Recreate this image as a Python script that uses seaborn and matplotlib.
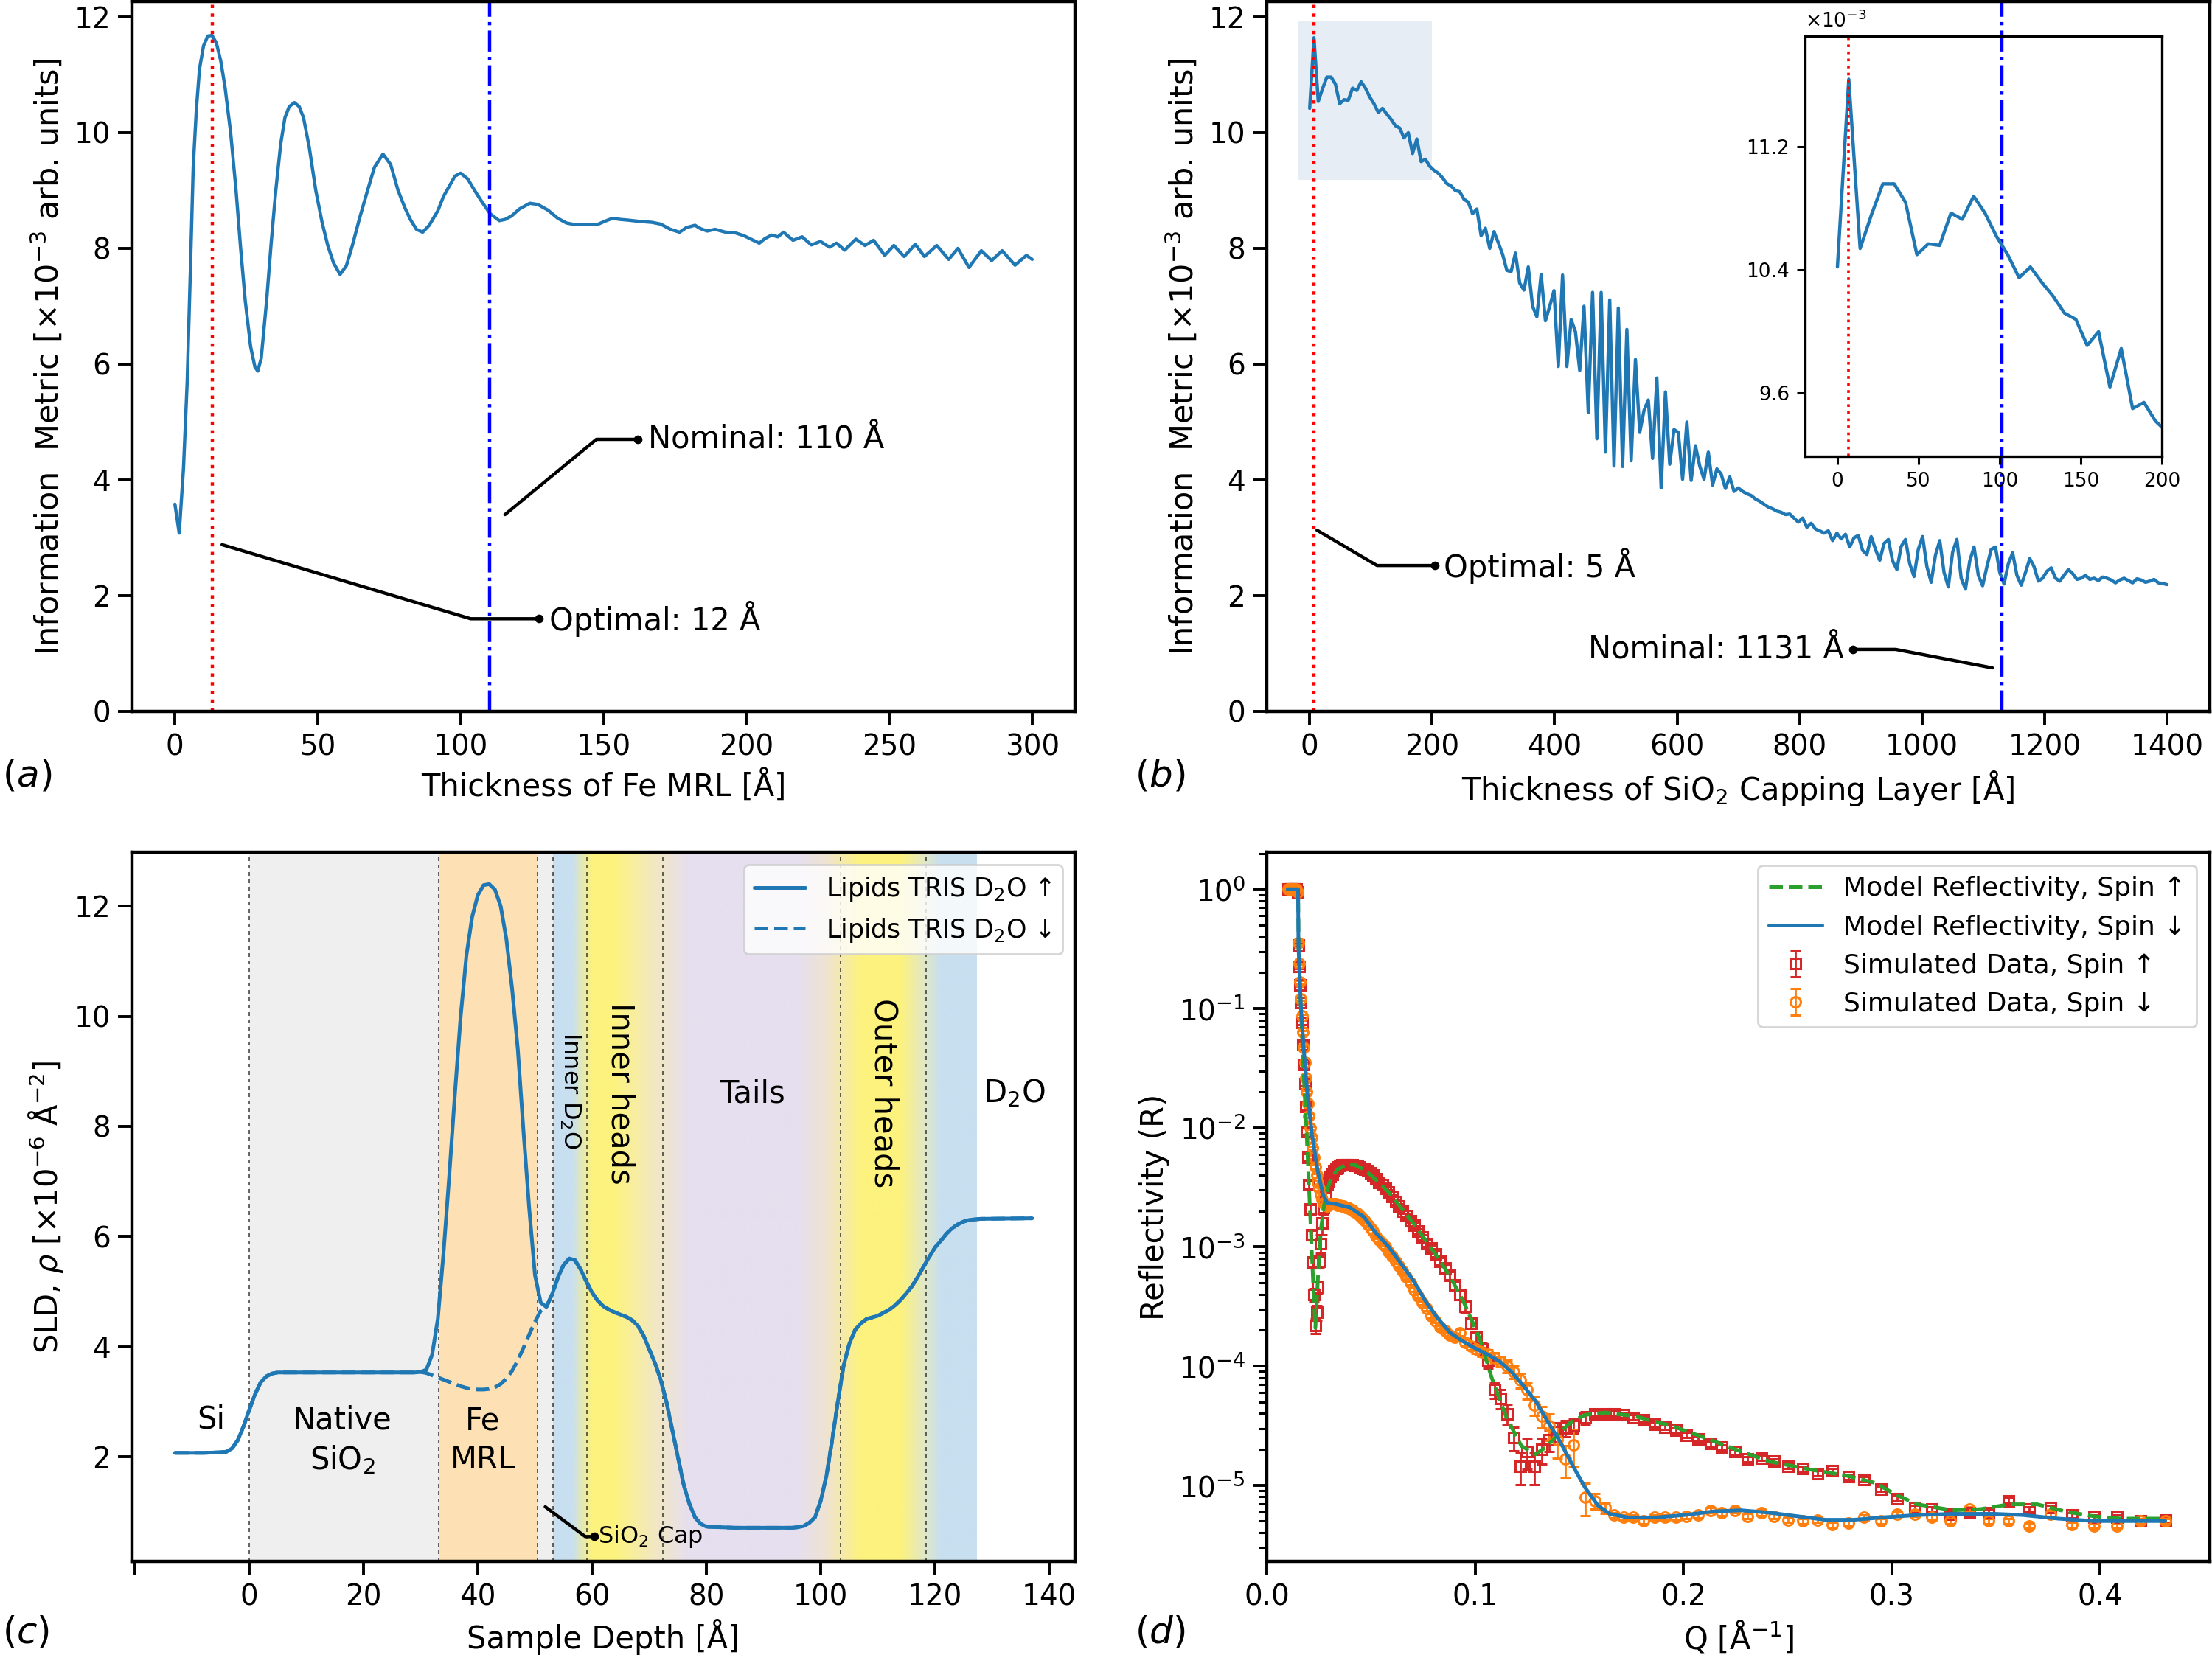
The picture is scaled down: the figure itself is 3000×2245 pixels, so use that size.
import numpy as np
import matplotlib
matplotlib.use('Agg')
import matplotlib.pyplot as plt
import seaborn as sns
from matplotlib.patches import Rectangle
from matplotlib.colors import to_rgb

# ---------------- data ----------------
# (a) information metric vs Fe MRL thickness
a_x = [0, 1.5, 3, 4.3, 5.4, 6.4, 7.5, 8.6, 10, 11.5,
       13, 14.5, 16, 17.5, 19.5, 21.4, 23, 24.6, 26.5, 28,
       29, 30.2, 32.1, 33.7, 35.3, 37, 38.5, 40, 41.8, 43.5,
       45, 47, 49.3, 51.5, 53.5, 55.5, 57.8, 60, 62.1, 64.5,
       67.4, 69.8, 72.8, 75.5, 78.1, 80.5, 82.4, 84.5, 86.7, 89,
       92, 94, 96.3, 98, 100, 102.5, 104.9, 107.5, 110.3, 113.5,
       115.5, 117.8, 120.5, 124.2, 127, 130.6, 134, 137, 140, 143.5,
       147.7, 150.5, 153.1, 156, 158.4, 162, 167, 170, 173.4, 176.6,
       179, 182, 184, 186.3, 189, 192.7, 196, 199.1, 202, 204.5,
       206.5, 208.8, 211, 213, 216.3, 219.5, 222.7, 225.9, 229.1, 231.5,
       234.4, 238.3, 241.5, 244.5, 248.4, 251.6, 255.2, 259.1, 262.3, 266.6,
       270.8, 274, 277.9, 282.2, 285.8, 289.5, 294, 298, 300]
a_y = [3.58, 3.08, 4.2, 5.7, 7.6, 9.4, 10.4, 11.1, 11.5, 11.67,
       11.68, 11.55, 11.25, 10.8, 10.0, 9.0, 8.0, 7.1, 6.3, 5.95,
       5.88, 6.1, 7.1, 8.1, 9.0, 9.8, 10.26, 10.45, 10.52, 10.45,
       10.26, 9.75, 9.0, 8.45, 8.05, 7.75, 7.55, 7.7, 8.05, 8.5,
       9.0, 9.4, 9.63, 9.45, 9.0, 8.7, 8.5, 8.33, 8.28, 8.4,
       8.65, 8.9, 9.1, 9.25, 9.3, 9.2, 9.0, 8.8, 8.6, 8.48,
       8.5, 8.56, 8.68, 8.78, 8.76, 8.66, 8.52, 8.44, 8.41, 8.41,
       8.41, 8.47, 8.52, 8.5, 8.49, 8.47, 8.45, 8.42, 8.33, 8.28,
       8.36, 8.4, 8.34, 8.3, 8.33, 8.28, 8.27, 8.22, 8.15, 8.09,
       8.17, 8.23, 8.2, 8.28, 8.14, 8.2, 8.06, 8.12, 8.02, 8.09,
       7.97, 8.16, 8.05, 8.14, 7.88, 8.05, 7.86, 8.07, 7.86, 8.05,
       7.81, 8.0, 7.67, 7.96, 7.79, 7.96, 7.71, 7.88, 7.81]

# (b) information metric vs SiO2 capping thickness (7 A scan)
b_x = [0, 7, 14, 21, 28, 35, 42, 49, 56, 63,
       70, 77, 84, 91, 98, 105, 112, 119, 126, 133,
       140, 147, 154, 161, 168, 175, 182, 189, 196, 203,
       210, 217, 224, 231, 238, 245, 252, 259, 266, 273,
       280, 287, 294, 301, 308, 315, 322, 329, 336, 343,
       350, 357, 364, 371, 378, 385, 392, 399, 406, 413,
       420, 427, 434, 441, 448, 455, 462, 469, 476, 483,
       490, 497, 504, 511, 518, 525, 532, 539, 546, 553,
       560, 567, 574, 581, 588, 595, 602, 609, 616, 623,
       630, 637, 644, 651, 658, 665, 672, 679, 686, 693,
       700, 707, 714, 721, 728, 735, 742, 749, 756, 763,
       770, 777, 784, 791, 798, 805, 812, 819, 826, 833,
       840, 847, 854, 861, 868, 875, 882, 889, 896, 903,
       910, 917, 924, 931, 938, 945, 952, 959, 966, 973,
       980, 987, 994, 1001, 1008, 1015, 1022, 1029, 1036, 1043,
       1050, 1057, 1064, 1071, 1078, 1085, 1092, 1099, 1106, 1113,
       1120, 1127, 1134, 1141, 1148, 1155, 1162, 1169, 1176, 1183,
       1190, 1197, 1204, 1211, 1218, 1225, 1232, 1239, 1246, 1253,
       1260, 1267, 1274, 1281, 1288, 1295, 1302, 1309, 1316, 1323,
       1330, 1337, 1344, 1351, 1358, 1365, 1372, 1379, 1386, 1393,
       1400]
b_y = [10.42, 11.64, 10.54, 10.76, 10.96, 10.96, 10.84, 10.50, 10.57, 10.56,
       10.77, 10.73, 10.88, 10.77, 10.62, 10.50, 10.35, 10.42, 10.32, 10.23,
       10.12, 10.08, 9.91, 10.00, 9.64, 9.89, 9.50, 9.54, 9.42, 9.35,
       9.30, 9.22, 9.12, 9.08, 9.00, 8.98, 8.85, 8.80, 8.60, 8.68,
       8.22, 8.35, 8.00, 8.29, 8.10, 7.90, 7.62, 7.60, 7.92, 7.40,
       7.28, 7.68, 7.00, 6.82, 7.55, 6.75, 7.00, 7.27, 5.96, 7.54,
       5.96, 6.77, 6.56, 5.89, 7.00, 5.16, 7.24, 4.71, 7.24, 4.48,
       7.11, 4.24, 6.97, 4.23, 6.60, 4.33, 6.08, 4.82, 5.20, 5.38,
       4.37, 5.76, 3.86, 5.52, 4.27, 4.87, 4.82, 4.01, 5.00, 3.99,
       4.59, 4.24, 4.01, 4.48, 3.91, 4.19, 4.10, 3.85, 4.05, 3.80,
       3.86, 3.80, 3.76, 3.73, 3.67, 3.63, 3.58, 3.53, 3.50, 3.46,
       3.44, 3.40, 3.41, 3.34, 3.27, 3.34, 3.18, 3.25, 3.15, 3.12,
       3.08, 3.12, 2.95, 3.08, 2.98, 3.06, 2.84, 3.00, 3.04, 2.78,
       2.71, 3.02, 2.80, 2.61, 2.90, 2.97, 2.60, 2.45, 2.85, 2.97,
       2.55, 2.33, 2.80, 3.02, 2.50, 2.23, 2.70, 2.95, 2.40, 2.15,
       2.75, 2.97, 2.30, 2.11, 2.60, 2.84, 2.35, 2.17, 2.50, 2.80,
       2.84, 2.40, 2.20, 2.55, 2.74, 2.35, 2.18, 2.40, 2.64, 2.50,
       2.25, 2.30, 2.42, 2.48, 2.30, 2.25, 2.35, 2.45, 2.38, 2.28,
       2.30, 2.35, 2.28, 2.30, 2.26, 2.32, 2.30, 2.27, 2.22, 2.27,
       2.30, 2.26, 2.22, 2.29, 2.27, 2.23, 2.25, 2.28, 2.22, 2.21,
       2.19]

# (c) SLD profile
c_x = [-13, -8, -5, -4, -3, -2, -1, 0, 1, 2,
       3, 4, 5, 10, 20, 29, 30, 31, 32, 33,
       34, 35, 36, 37, 38, 39, 40, 41, 42, 43,
       44, 45, 46, 47, 48, 49, 50, 51, 52, 53,
       54, 55, 56, 57, 58, 59, 60, 61, 62, 63,
       64, 65, 66, 67, 68, 69, 70, 71, 72, 73,
       74, 75, 76, 77, 78, 79, 80, 85, 90, 95,
       96, 97, 98, 99, 100, 101, 102, 103, 104, 105,
       106, 107, 108, 110, 112, 113, 114, 115, 116, 117,
       118, 119, 120, 121, 122, 123, 124, 125, 126, 128,
       137]
sld_up = [2.07, 2.07, 2.08, 2.09, 2.15, 2.3, 2.55, 2.85, 3.13, 3.35,
          3.46, 3.51, 3.53, 3.53, 3.53, 3.53, 3.54, 3.58, 3.85, 4.5,
          5.7, 7.1, 8.6, 10.0, 11.1, 11.8, 12.2, 12.38, 12.4, 12.3,
          12.0, 11.4, 10.5, 9.4, 7.9, 6.5, 5.3, 4.8, 4.72, 4.95,
          5.25, 5.48, 5.6, 5.57, 5.4, 5.18, 4.98, 4.83, 4.73, 4.67,
          4.62, 4.58, 4.54, 4.48, 4.38, 4.2, 3.95, 3.7, 3.4, 3.0,
          2.5, 2.0, 1.5, 1.15, 0.9, 0.78, 0.73, 0.71, 0.71, 0.71,
          0.72, 0.74, 0.8, 0.9, 1.2, 1.65, 2.3, 3.0, 3.65, 4.05,
          4.3, 4.42, 4.5, 4.56, 4.67, 4.75, 4.85, 4.97, 5.1, 5.27,
          5.45, 5.63, 5.8, 5.92, 6.05, 6.15, 6.22, 6.27, 6.3, 6.32,
          6.33]
# spin-down SLD inside the Fe layer (x = 30 ... 52)
sld_down_fe = [3.54, 3.52, 3.48, 3.44, 3.4, 3.36, 3.32, 3.28, 3.25, 3.23,
               3.22, 3.22, 3.23, 3.26, 3.32, 3.42, 3.56, 3.75, 3.98, 4.22,
               4.45, 4.65, 4.72]

# (d) reflectivity
q_data = [0.01030, 0.01058, 0.01087, 0.01117, 0.01148, 0.01180, 0.01212, 0.01246, 0.01280, 0.01315,
          0.01351, 0.01389, 0.01427, 0.01466, 0.01506, 0.01548, 0.01591, 0.01634, 0.01679, 0.01726,
          0.01773, 0.01822, 0.01872, 0.01924, 0.01977, 0.02031, 0.02087, 0.02144, 0.02203, 0.02264,
          0.02326, 0.02390, 0.02456, 0.02523, 0.02593, 0.02664, 0.02737, 0.02813, 0.02890, 0.02969,
          0.03051, 0.03135, 0.03221, 0.03310, 0.03401, 0.03494, 0.03590, 0.03689, 0.03790, 0.03895,
          0.04002, 0.04112, 0.04225, 0.04341, 0.04460, 0.04583, 0.04709, 0.04838, 0.04971, 0.05108,
          0.05249, 0.05393, 0.05541, 0.05694, 0.05850, 0.06011, 0.06176, 0.06346, 0.06521, 0.06700,
          0.06884, 0.07074, 0.07268, 0.07468, 0.07673, 0.07884, 0.08101, 0.08324, 0.08553, 0.08788,
          0.09030, 0.09278, 0.09533, 0.09795, 0.10065, 0.10342, 0.10626, 0.10918, 0.11219, 0.11527,
          0.11844, 0.12170, 0.12505, 0.12849, 0.13202, 0.13565, 0.13938, 0.14321, 0.14715, 0.1528,
          0.1574, 0.1625, 0.1667, 0.1714, 0.1760, 0.1809, 0.1861, 0.1911, 0.1963, 0.2015,
          0.2070, 0.2129, 0.2185, 0.2246, 0.2309, 0.2374, 0.2435, 0.2503, 0.2573, 0.2644,
          0.2716, 0.2792, 0.2868, 0.2947, 0.3027, 0.3110, 0.3193, 0.3282, 0.3373, 0.3466,
          0.3560, 0.3660, 0.3762, 0.3866, 0.3971, 0.4082, 0.4193, 0.4313]
logr_up = [0, 0, 0, 0, 0, 0, 0, 0, 0, 0,
           0, 0, 0, -0.02, -0.47, -0.65, -0.80, -0.95, -1.12, -1.30,
           -1.47, -1.63, -1.82, -2.03, -2.25, -2.48, -2.68, -2.90, -3.13, -3.40,
           -3.66, -3.55, -3.34, -3.12, -2.97, -2.80, -2.67, -2.58, -2.48, -2.45,
           -2.41, -2.39, -2.36, -2.34, -2.33, -2.32, -2.31, -2.31, -2.31, -2.31,
           -2.31, -2.31, -2.32, -2.32, -2.33, -2.34, -2.35, -2.36, -2.38, -2.40,
           -2.43, -2.46, -2.48, -2.51, -2.54, -2.58, -2.62, -2.66, -2.70, -2.74,
           -2.78, -2.82, -2.87, -2.92, -2.97, -3.01, -3.06, -3.12, -3.18, -3.24,
           -3.32, -3.40, -3.50, -3.64, -3.76, -3.86, -3.95, -4.20, -4.27, -4.40,
           -4.60, -4.84, -4.72, -4.84, -4.70, -4.62, -4.55, -4.52, -4.50, -4.43,
           -4.40, -4.40, -4.40, -4.41, -4.43, -4.45, -4.49, -4.51, -4.54, -4.58,
           -4.61, -4.65, -4.68, -4.72, -4.78, -4.77, -4.80, -4.84, -4.86, -4.90,
           -4.88, -4.93, -4.95, -5.03, -5.11, -5.19, -5.20, -5.24, -5.23, -5.23,
           -5.13, -5.20, -5.19, -5.25, -5.27, -5.27, -5.30, -5.29]
logr_down = [0, 0, 0, 0, 0, 0, 0, 0, 0, 0,
             0, 0, 0, -0.02, -0.45, -0.62, -0.78, -0.92, -1.06, -1.20,
             -1.33, -1.45, -1.58, -1.70, -1.80, -1.90, -2.00, -2.08, -2.17, -2.25,
             -2.33, -2.40, -2.46, -2.51, -2.56, -2.60, -2.63, -2.65, -2.66, -2.65,
             -2.64, -2.64, -2.64, -2.64, -2.65, -2.65, -2.66, -2.66, -2.67, -2.67,
             -2.68, -2.69, -2.71, -2.72, -2.74, -2.76, -2.78, -2.81, -2.84, -2.87,
             -2.91, -2.94, -2.97, -3.00, -3.04, -3.08, -3.12, -3.16, -3.20, -3.25,
             -3.30, -3.36, -3.41, -3.47, -3.52, -3.58, -3.62, -3.67, -3.70, -3.74,
             -3.76, -3.72, -3.80, -3.83, -3.86, -3.88, -3.90, -3.93, -3.96, -4.00,
             -4.05, -4.12, -4.20, -4.33, -4.42, -4.50, -4.62, -4.78, -4.66, -5.10,
             -5.13, -5.19, -5.25, -5.27, -5.27, -5.30, -5.27, -5.27, -5.27, -5.26,
             -5.25, -5.21, -5.23, -5.21, -5.26, -5.23, -5.26, -5.29, -5.30, -5.29,
             -5.33, -5.32, -5.27, -5.30, -5.24, -5.24, -5.27, -5.30, -5.20, -5.30,
             -5.30, -5.34, -5.24, -5.33, -5.34, -5.34, -5.30, -5.30]
# relative error bars
err_up = ([0.02] * 14 + [0.03, 0.03, 0.03, 0.04, 0.04, 0.05,
          0.05, 0.05, 0.06, 0.06, 0.07, 0.08, 0.08, 0.09, 0.10, 0.12,
          0.14, 0.14, 0.12, 0.12, 0.18, 0.20, 0.12, 0.08, 0.06, 0.05]
          + [0.05] * 30
          + [0.05, 0.05, 0.05, 0.05, 0.06, 0.06, 0.06, 0.07, 0.07, 0.08,
             0.08, 0.09, 0.10, 0.10, 0.12, 0.12, 0.14, 0.15, 0.18, 0.20,
             0.22, 0.30, 0.28, 0.30, 0.25, 0.20, 0.18, 0.15, 0.14, 0.12]
          + [0.05] * 38)
err_down = ([0.02] * 14 + [0.03] * 16 + [0.04] * 50
            + [0.05, 0.06, 0.06, 0.07, 0.08, 0.08, 0.09, 0.10, 0.10, 0.12,
               0.12, 0.14, 0.16, 0.18, 0.20, 0.25, 0.30, 0.30, 0.35, 0.30]
            + [0.15, 0.10] + [0.05] * 36)

# model curves
mu_q = [0.0100, 0.0150, 0.0153, 0.0160, 0.0170, 0.0180, 0.0190, 0.0200, 0.0210, 0.0220,
        0.0233, 0.0240, 0.0250, 0.0260, 0.0275, 0.0290, 0.0310, 0.0340, 0.0380, 0.0420,
        0.0467, 0.0520, 0.0585, 0.0640, 0.0703, 0.0760, 0.0821, 0.0880, 0.0939, 0.0980,
        0.1022, 0.1080, 0.1150, 0.1222, 0.1290, 0.1340, 0.1400, 0.1460, 0.1528, 0.1623,
        0.1764, 0.1940, 0.2117, 0.2235, 0.2412, 0.2615, 0.2784, 0.2920, 0.3021, 0.3123,
        0.3292, 0.3428, 0.3563, 0.3699, 0.3834, 0.3969, 0.4105, 0.4313]
mu_log = [0, 0, -0.5, -0.85, -1.25, -1.65, -2.0, -2.4, -2.8, -3.2,
          -3.68, -3.45, -3.1, -2.85, -2.65, -2.52, -2.42, -2.35, -2.31, -2.31,
          -2.35, -2.43, -2.54, -2.66, -2.8, -2.94, -3.09, -3.25, -3.44, -3.6,
          -3.77, -4.1, -4.43, -4.67, -4.74, -4.68, -4.57, -4.47, -4.41, -4.39,
          -4.42, -4.5, -4.61, -4.69, -4.8, -4.87, -4.92, -4.98, -5.08, -5.16,
          -5.21, -5.2, -5.16, -5.16, -5.22, -5.26, -5.28, -5.28]
md_q = [0.0100, 0.0150, 0.0152, 0.0164, 0.0177, 0.0194, 0.0217, 0.0244, 0.0270, 0.0290,
        0.0330, 0.0400, 0.0467, 0.0522, 0.0585, 0.0640, 0.0703, 0.0760, 0.0821, 0.0880,
        0.0939, 0.1000, 0.1057, 0.1117, 0.1175, 0.1230, 0.1293, 0.1350, 0.1410, 0.1470,
        0.1528, 0.1590, 0.1646, 0.1735, 0.1870, 0.2005, 0.2141, 0.2276, 0.2412, 0.2547,
        0.2683, 0.2818, 0.2954, 0.3123, 0.3292, 0.3495, 0.3630, 0.3800, 0.3969, 0.4313]
md_log = [0, 0, -0.48, -1.0, -1.33, -1.7, -2.06, -2.36, -2.56, -2.63,
          -2.64, -2.67, -2.75, -2.88, -3.0, -3.13, -3.28, -3.45, -3.6, -3.72,
          -3.79, -3.85, -3.9, -3.96, -4.05, -4.16, -4.3, -4.47, -4.64, -4.84,
          -5.02, -5.17, -5.24, -5.27, -5.27, -5.25, -5.22, -5.21, -5.23, -5.26,
          -5.29, -5.29, -5.27, -5.25, -5.24, -5.24, -5.25, -5.28, -5.3, -5.3]

# ---------------- styling ----------------
sns.set_theme(style='ticks', rc={
    'axes.linewidth': 1.6, 'axes.edgecolor': 'black',
    'xtick.major.width': 1.4, 'ytick.major.width': 1.4,
    'xtick.major.size': 7, 'ytick.major.size': 7,
    'xtick.minor.size': 4, 'ytick.minor.size': 4,
    'xtick.minor.width': 1.1, 'ytick.minor.width': 1.1,
    'xtick.color': 'black', 'ytick.color': 'black',
    'text.color': 'black', 'axes.labelcolor': 'black',
    'font.size': 14, 'xtick.labelsize': 14, 'ytick.labelsize': 14,
    'axes.labelsize': 15, 'legend.fontsize': 13,
})
plt.rcParams['font.family'] = ['DejaVu Sans']

BLUE = '#1f77b4'
fig = plt.figure(figsize=(15, 11.225), dpi=200)
ax_a = fig.add_axes([0.0597, 0.5702, 0.4263, 0.4290])
ax_b = fig.add_axes([0.5727, 0.5702, 0.4263, 0.4290])
ax_c = fig.add_axes([0.0597, 0.0566, 0.4263, 0.4285])
ax_d = fig.add_axes([0.5727, 0.0566, 0.4263, 0.4285])


def callout(ax, target, corner, dot, text, ha='left', fs=15, gap=3.5):
    ax.plot([target[0], corner[0], dot[0]], [target[1], corner[1], dot[1]],
            color='black', lw=1.6, zorder=5)
    ax.plot([dot[0]], [dot[1]], 'o', color='black', ms=3.2, zorder=5)
    dx = gap if ha == 'left' else -gap
    ax.text(dot[0] + dx, dot[1], text, ha=ha, va='center', fontsize=fs, zorder=6)


# ---------------- (a) ----------------
sns.lineplot(x=a_x, y=a_y, ax=ax_a, color=BLUE, lw=1.6)
ax_a.axvline(13, color='red', ls=':', lw=1.6)
ax_a.axvline(110, color='blue', ls='-.', lw=1.6)
ax_a.set_xlim(-15, 315)
ax_a.set_ylim(0, 12.27)
ax_a.set_xticks(range(0, 301, 50))
ax_a.set_yticks(range(0, 13, 2))
ax_a.set_xlabel('Thickness of Fe MRL [Å]')
ax_a.set_ylabel('Information  Metric [×10$^{-3}$ arb. units]', fontsize=15.5)
callout(ax_a, (115.5, 3.4), (147.5, 4.7), (162, 4.7), 'Nominal: 110 Å')
callout(ax_a, (16.5, 2.88), (103.5, 1.6), (127.5, 1.6), 'Optimal: 12 Å')

# ---------------- (b) ----------------
ax_b.add_patch(Rectangle((-20, 9.19), 220, 2.73, facecolor='#b0c4de',
                         alpha=0.3, lw=0, zorder=0))
sns.lineplot(x=b_x, y=b_y, ax=ax_b, color=BLUE, lw=1.6)
ax_b.axvline(7, color='red', ls=':', lw=1.6)
ax_b.axvline(1131, color='blue', ls='-.', lw=1.6)
ax_b.set_xlim(-70, 1470)
ax_b.set_ylim(0, 12.27)
ax_b.set_xticks(range(0, 1401, 200))
ax_b.set_yticks(range(0, 13, 2))
ax_b.set_xlabel('Thickness of SiO$_2$ Capping Layer [Å]')
ax_b.set_ylabel('Information  Metric [×10$^{-3}$ arb. units]', fontsize=15.5)
callout(ax_b, (12, 3.13), (110, 2.52), (204, 2.52), 'Optimal: 5 Å', gap=15)
callout(ax_b, (1115, 0.75), (957, 1.07), (887, 1.07), 'Nominal: 1131 Å',
        ha='right', gap=15)

ax_in = fig.add_axes([0.816, 0.7243, 0.1613, 0.2539])
ax_in.patch.set_alpha(0)
sns.lineplot(x=b_x, y=b_y, ax=ax_in, color=BLUE, lw=1.6)
ax_in.axvline(7, color='red', ls=':', lw=1.3)
ax_in.set_xlim(-20, 200)
ax_in.set_ylim(9.19, 11.92)
ax_in.set_xticks([0, 50, 100, 150, 200])
ax_in.set_yticks([9.6, 10.4, 11.2])
ax_in.set_yticklabels(['9.6', '10.4', '11.2'])
ax_in.tick_params(labelsize=9.5, length=4, width=1.1)
for s in ax_in.spines.values():
    s.set_linewidth(1.2)
ax_in.set_xlabel('')
ax_in.set_ylabel('')
ax_in.text(0.0, 1.01, '×10$^{-3}$', transform=ax_in.transAxes, fontsize=9.5,
           ha='left', va='bottom')

# ---------------- (c) ----------------
c_ylim = (0.1, 12.98)
region_lines = [0, 33.2, 50.4, 53.2, 59.1, 72.4, 103.5, 118.4]
ax_c.axvspan(0, 33.2, color='#efefef', lw=0, zorder=0)
ax_c.axvspan(33.2, 50.4, color='#fde1b5', lw=0, zorder=0)
ax_c.axvspan(50.4, 53.2, color='#efefef', lw=0, zorder=0)
grad_pos = [53.2, 56.5, 60.0, 64.0, 71.0, 77.0, 96.0, 101.0, 107.0, 114.0, 118.0, 121.0, 127.3]
grad_col = ['#c8dff0', '#c8dff0', '#fdf27e', '#fdf37f', '#f2e8c2', '#e6dfef', '#e6dfef',
            '#efe3d2', '#fdf27e', '#fdf27e', '#e2e8c4', '#c8dff0', '#c8dff0']
gx = np.linspace(grad_pos[0], grad_pos[-1], 800)
grgb = np.array([to_rgb(c) for c in grad_col])
gimg = np.stack([np.interp(gx, grad_pos, grgb[:, k]) for k in range(3)], axis=-1)[None, :, :]
ax_c.imshow(gimg, extent=(grad_pos[0], grad_pos[-1], c_ylim[0], c_ylim[1]),
            aspect='auto', zorder=0, interpolation='bilinear')
for xv in region_lines:
    ax_c.axvline(xv, color='black', lw=0.6, ls=(0, (3, 3)), alpha=0.7, zorder=1)

i0, i1 = c_x.index(30), c_x.index(52)
sld_down = sld_up[:i0] + sld_down_fe + sld_up[i1 + 1:]
sns.lineplot(x=c_x, y=sld_down, ax=ax_c, color=BLUE, lw=1.8, linestyle='--',
             label='Lipids TRIS D$_2$O ↓', zorder=3)
sns.lineplot(x=c_x, y=sld_up, ax=ax_c, color=BLUE, lw=1.8,
             label='Lipids TRIS D$_2$O ↑', zorder=3)
ax_c.set_xlim(-20.5, 144.5)
ax_c.set_ylim(*c_ylim)
ax_c.set_xticks(range(-20, 141, 20))
ax_c.set_xticklabels([''] + [str(v) for v in range(0, 141, 20)])
ax_c.set_yticks(range(2, 13, 2))
ax_c.set_xlabel('Sample Depth [Å]')
ax_c.set_ylabel(r'SLD, $\rho$ [×10$^{-6}$ Å$^{-2}$]')

txt = dict(ha='center', va='center', fontsize=15, zorder=4)
ax_c.text(-6.7, 2.67, 'Si', **txt)
ax_c.text(16.3, 2.3, 'Native\nSiO$_2$', linespacing=1.3, **txt)
ax_c.text(40.9, 2.3, 'Fe\nMRL', linespacing=1.3, **txt)
ax_c.text(56.2, 8.65, 'Inner D$_2$O', rotation=-90, ha='center', va='center',
          fontsize=11.5, zorder=4)
ax_c.text(64.9, 8.6, 'Inner heads', rotation=-90, **txt)
ax_c.text(88.0, 8.6, 'Tails', **txt)
ax_c.text(111.0, 8.6, 'Outer heads', rotation=-90, **txt)
ax_c.text(133.8, 8.6, 'D$_2$O', **txt)
callout(ax_c, (51.8, 1.09), (58.8, 0.55), (60.4, 0.55), 'SiO$_2$ Cap',
        fs=11.5, gap=0.6)
ax_c.plot  # keep axes
h, l = ax_c.get_legend_handles_labels()
order = [l.index('Lipids TRIS D$_2$O ↑'), l.index('Lipids TRIS D$_2$O ↓')]
ax_c.legend([h[i] for i in order], [l[i] for i in order], loc='upper right',
            fontsize=12.5, handlelength=2.0)

# ---------------- (d) ----------------
q = np.array(q_data)
r_up = 10.0 ** np.array(logr_up)
r_dn = 10.0 ** np.array(logr_down)
ax_d.errorbar(q, r_up, yerr=r_up * np.array(err_up), fmt='s', ms=5, mfc='none',
              mec='#d62728', ecolor='#d62728', mew=1.1, elinewidth=1.0, capsize=2.5,
              label='Simulated Data, Spin ↑', zorder=2)
ax_d.errorbar(q, r_dn, yerr=r_dn * np.array(err_down), fmt='o', ms=5, mfc='none',
              mec='#ff7f0e', ecolor='#ff7f0e', mew=1.1, elinewidth=1.0, capsize=2.5,
              label='Simulated Data, Spin ↓', zorder=2)
sns.lineplot(x=mu_q, y=10.0 ** np.array(mu_log), ax=ax_d, color='#2ca02c', lw=1.8,
             linestyle='--', label='Model Reflectivity, Spin ↑', zorder=3)
sns.lineplot(x=md_q, y=10.0 ** np.array(md_log), ax=ax_d, color=BLUE, lw=1.8,
             label='Model Reflectivity, Spin ↓', zorder=3)
ax_d.set_yscale('log')
ax_d.set_xlim(0, 0.4527)
ax_d.set_ylim(2.3e-6, 2.05)
ax_d.set_xticks([0.0, 0.1, 0.2, 0.3, 0.4])
ax_d.set_xticklabels(['0.0', '0.1', '0.2', '0.3', '0.4'])
ax_d.set_xlabel('Q [Å$^{-1}$]')
ax_d.set_ylabel('Reflectivity (R)')
h, l = ax_d.get_legend_handles_labels()
want = ['Model Reflectivity, Spin ↑', 'Model Reflectivity, Spin ↓',
        'Simulated Data, Spin ↑', 'Simulated Data, Spin ↓']
ax_d.legend([h[l.index(w)] for w in want], want, loc='upper right', fontsize=13)

# panel tags
for xf, yf, tag in [(0.001, 0.5314, '(a)'), (0.513, 0.5314, '(b)'),
                    (0.001, 0.0134, '(c)'), (0.513, 0.0134, '(d)')]:
    fig.text(xf, yf, '$' + tag + '$', ha='left', va='center', fontsize=18)

fig.savefig('out.png', dpi=200)
